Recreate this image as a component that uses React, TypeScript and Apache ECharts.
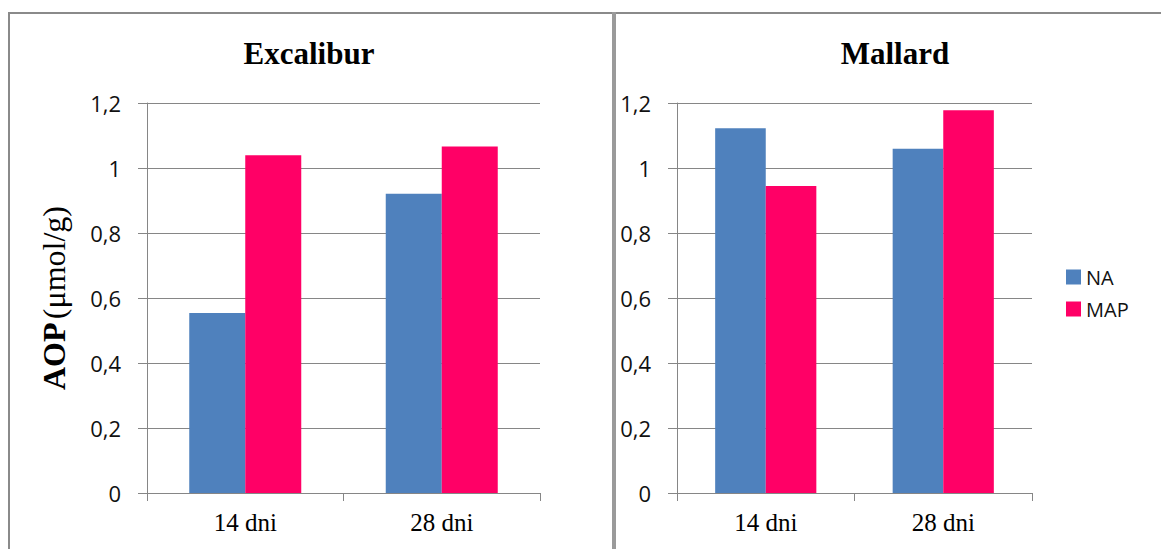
import React, { useEffect, useRef } from "react";
import * as echarts from "echarts";

const categories = ["14 dni", "28 dni"];
const seriesNames = ["NA", "MAP"];
const excaliburNA = [0.554, 0.921];
const excaliburMAP = [1.039, 1.066];
const mallardNA = [1.122, 1.059];
const mallardMAP = [0.945, 1.178];
const panelTitles = ["Excalibur", "Mallard"];
const yTicks = { min: 0, max: 1.2, interval: 0.2 };

const NA_COLOR = "#4F81BD";
const MAP_COLOR = "#FF0066";
const GRID_COLOR = "#868686";
const SERIF = "Liberation Serif";
const SANS = "Open Sans";

const fmt = (v: number) => String(+v.toFixed(1)).replace(".", ",");

export default function App() {
  const ref = useRef<HTMLDivElement>(null);
  useEffect(() => {
    document.body.style.margin = "0";
    if (!ref.current) return;
    const chart = echarts.init(ref.current, null, { renderer: "svg" });

    const xAxisBase = (gridIndex: number) => ({
      type: "category",
      gridIndex,
      data: categories,
      boundaryGap: true,
      axisLine: { show: true, lineStyle: { color: GRID_COLOR, width: 1 } },
      axisTick: { show: true, length: 8, interval: 0, lineStyle: { color: GRID_COLOR } },
      axisLabel: { color: "#000", fontFamily: SERIF, fontSize: 25, margin: 17 },
    });
    const yAxisBase = (gridIndex: number) => ({
      type: "value",
      gridIndex,
      min: yTicks.min,
      max: yTicks.max,
      interval: yTicks.interval,
      axisLine: { show: true, lineStyle: { color: GRID_COLOR, width: 1 } },
      axisTick: { show: true, length: 9, lineStyle: { color: GRID_COLOR } },
      splitLine: { show: true, lineStyle: { color: GRID_COLOR, width: 1 } },
      axisLabel: { color: "#111", fontFamily: SANS, fontSize: 22, margin: 26, formatter: fmt },
    });

    const barBase = {
      type: "bar",
      barCategoryGap: "43%",
      barGap: "0%",
    };

    chart.setOption({
      animation: false,
      backgroundColor: "#fff",
      grid: [
        { left: 147, top: 103, width: 393, height: 390, containLabel: false },
        { left: 677, top: 103, width: 355, height: 390, containLabel: false },
      ],
      xAxis: [xAxisBase(0), xAxisBase(1)],
      yAxis: [
        {
          ...yAxisBase(0),
          name: "{b|AOP} {n|(μmol/g)}",
          nameLocation: "middle",
          nameRotate: 90,
          nameGap: 77,
          nameTextStyle: {
            rich: {
              b: { fontFamily: SERIF, fontSize: 32, fontWeight: "bold", color: "#000" },
              n: { fontFamily: SERIF, fontSize: 32, color: "#000" },
            },
          },
        },
        yAxisBase(1),
      ],
      legend: {
        orient: "vertical",
        left: 1061,
        top: 262,
        itemWidth: 15,
        itemHeight: 15,
        itemGap: 12,
        icon: "rect",
        data: seriesNames,
        textStyle: { fontFamily: SANS, fontSize: 20, color: "#111" },
      },
      series: [
        { ...barBase, name: seriesNames[0], xAxisIndex: 0, yAxisIndex: 0, data: excaliburNA, itemStyle: { color: NA_COLOR } },
        { ...barBase, name: seriesNames[1], xAxisIndex: 0, yAxisIndex: 0, data: excaliburMAP, itemStyle: { color: MAP_COLOR } },
        { ...barBase, name: seriesNames[0], xAxisIndex: 1, yAxisIndex: 1, data: mallardNA, itemStyle: { color: NA_COLOR } },
        { ...barBase, name: seriesNames[1], xAxisIndex: 1, yAxisIndex: 1, data: mallardMAP, itemStyle: { color: MAP_COLOR } },
      ],
      graphic: [
        { type: "rect", shape: { x: 8, y: 12, width: 1153, height: 2 }, style: { fill: "#8a8a8a" }, silent: true },
        { type: "rect", shape: { x: 8, y: 12, width: 2, height: 537 }, style: { fill: "#8a8a8a" }, silent: true },
        { type: "rect", shape: { x: 612, y: 12, width: 4, height: 537 }, style: { fill: "#9a9a9a" }, silent: true },
        {
          type: "text",
          x: 309,
          y: 53,
          style: { text: panelTitles[0], align: "center", verticalAlign: "middle", fontFamily: SERIF, fontSize: 31, fontWeight: "bold", fill: "#000" },
        },
        {
          type: "text",
          x: 895,
          y: 53,
          style: { text: panelTitles[1], align: "center", verticalAlign: "middle", fontFamily: SERIF, fontSize: 31, fontWeight: "bold", fill: "#000" },
        },
      ],
    });
    return () => chart.dispose();
  }, []);
  return <div ref={ref} style={{ width: 1161, height: 549 }} />;
}
